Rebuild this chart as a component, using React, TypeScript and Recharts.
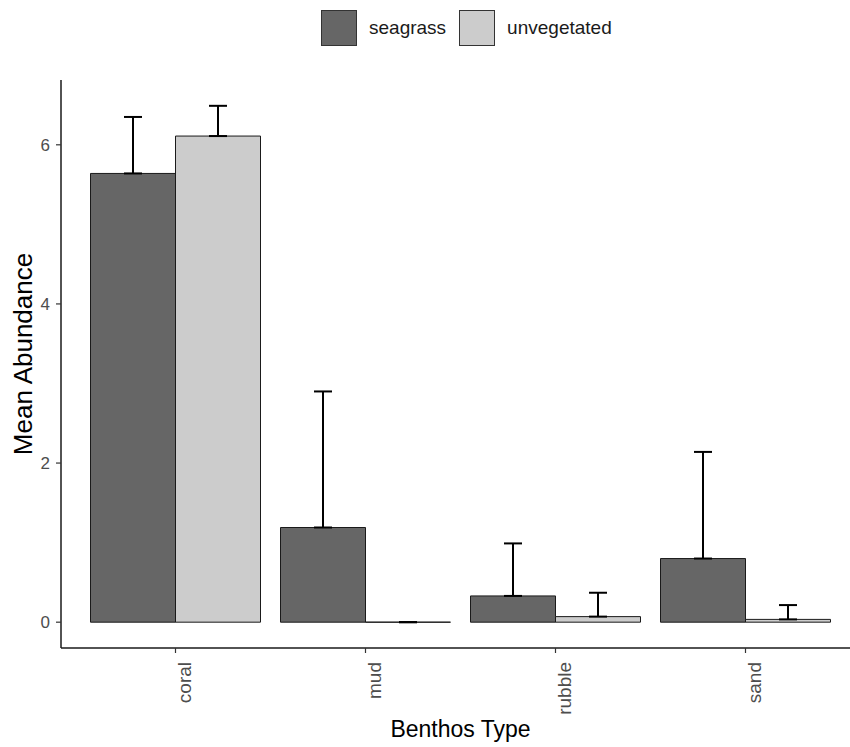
import React from 'react';
import { BarChart, Bar, XAxis, YAxis, ErrorBar, Legend, Label } from 'recharts';

const categories = ['coral', 'mud', 'rubble', 'sand'];
const seagrassMean = [5.64, 1.19, 0.33, 0.8];
const seagrassSE = [0.71, 1.71, 0.66, 1.34];
const unvegetatedMean = [6.11, 0, 0.07, 0.035];
const unvegetatedSE = [0.38, 0, 0.3, 0.18];
const yTicks = [0, 2, 4, 6];

const seriesInfo = [
  { key: 'seagrass', name: 'seagrass', color: '#666666' },
  { key: 'unvegetated', name: 'unvegetated', color: '#CCCCCC' },
];

const data = categories.map((c, i) => ({
  benthos: c,
  seagrass: seagrassMean[i],
  seagrassErr: [0, seagrassSE[i]],
  unvegetated: unvegetatedMean[i],
  unvegetatedErr: [0, unvegetatedSE[i]],
}));

const maxTop = Math.max(
  ...seagrassMean.map((m, i) => m + seagrassSE[i]),
  ...unvegetatedMean.map((m, i) => m + unvegetatedSE[i])
);
const yDomain = [-0.05 * maxTop, maxTop * 1.05];

const FONT = '"Liberation Sans", Arial, sans-serif';

const BarShape = (props: any) => {
  const { x, y, width, height, fill } = props;
  return (
    <path
      d={`M${x},${y}h${width}v${height}h${-width}Z`}
      fill={fill}
      stroke="#1a1a1a"
      strokeWidth={1}
    />
  );
};

const XTick = (props: any) => {
  const { x, y, payload } = props;
  const tx = x + 15;
  const ty = y + 2;
  return (
    <text
      x={tx}
      y={ty}
      transform={`rotate(-90, ${tx}, ${ty})`}
      textAnchor="end"
      fontSize={19}
      fill="#4D4D4D"
      fontFamily={FONT}
    >
      {payload.value}
    </text>
  );
};

const LegendContent = () => (
  <div style={{ height: 80, position: 'relative', width: 860 }}>
    <div
      style={{
        position: 'absolute',
        left: 321,
        top: 10,
        display: 'flex',
        alignItems: 'center',
        fontFamily: FONT,
        fontSize: 19,
        color: '#1a1a1a',
        whiteSpace: 'nowrap',
      }}
    >
      {seriesInfo.map((s) => (
        <React.Fragment key={s.key}>
          <span
            style={{
              display: 'inline-block',
              width: 36,
              height: 36,
              boxSizing: 'border-box',
              background: s.color,
              border: '1px solid #333333',
              marginRight: 12,
            }}
          />
          <span style={{ marginRight: 13 }}>{s.name}</span>
        </React.Fragment>
      ))}
    </div>
  </div>
);

export default function App() {
  return (
    <div
      style={{
        position: 'absolute',
        left: 0,
        top: 0,
        width: 850,
        height: 747,
        overflow: 'hidden',
        background: '#fff',
      }}
    >
      <BarChart
        width={860}
        height={747}
        data={data}
        margin={{ top: 0, right: 0, bottom: 0, left: 0 }}
        barCategoryGap={10}
        barGap={0}
        style={{ fontFamily: FONT }}
      >
        <Legend
          verticalAlign="top"
          align="left"
          content={<LegendContent />}
          wrapperStyle={{ top: 0, left: 0, width: 860, height: 80, margin: 0 }}
        />
        <XAxis
          dataKey="benthos"
          height={99}
          padding={{ left: 19.5, right: 19.5 }}
          tickSize={5}
          tickMargin={7}
          tick={<XTick />}
          axisLine={{ stroke: '#1a1a1a', strokeWidth: 1.5 }}
          tickLine={{ stroke: '#333333', strokeWidth: 1.2 }}
          interval={0}
        >
          <Label
            content={(p: any) => {
              const vb = p.viewBox;
              return (
                <text
                  x={vb.x + vb.width / 2}
                  y={vb.y + 89}
                  textAnchor="middle"
                  fontSize={23}
                  fill="#000"
                  fontFamily={FONT}
                >
                  Benthos Type
                </text>
              );
            }}
          />
        </XAxis>
        <YAxis
          width={61}
          domain={yDomain}
          ticks={yTicks}
          allowDataOverflow
          tickSize={5}
          tickMargin={6}
          tick={{ fontSize: 17, fill: '#4D4D4D', fontFamily: FONT }}
          axisLine={{ stroke: '#1a1a1a', strokeWidth: 1.5 }}
          tickLine={{ stroke: '#333333', strokeWidth: 1.2 }}
        >
          <Label
            content={(p: any) => {
              const vb = p.viewBox;
              const tx = vb.x + 32;
              const ty = vb.y + vb.height / 2 - 10;
              return (
                <text
                  x={tx}
                  y={ty}
                  transform={`rotate(-90, ${tx}, ${ty})`}
                  textAnchor="middle"
                  fontSize={26}
                  fill="#000"
                  fontFamily={FONT}
                >
                  Mean Abundance
                </text>
              );
            }}
          />
        </YAxis>
        <Bar
          dataKey="seagrass"
          name="seagrass"
          fill="#666666"
          shape={<BarShape />}
          isAnimationActive={false}
        >
          <ErrorBar
            dataKey="seagrassErr"
            direction="y"
            width={9}
            stroke="#000"
            strokeWidth={2}
            isAnimationActive={false}
          />
        </Bar>
        <Bar
          dataKey="unvegetated"
          name="unvegetated"
          fill="#CCCCCC"
          shape={<BarShape />}
          isAnimationActive={false}
        >
          <ErrorBar
            dataKey="unvegetatedErr"
            direction="y"
            width={9}
            stroke="#000"
            strokeWidth={2}
            isAnimationActive={false}
          />
        </Bar>
      </BarChart>
    </div>
  );
}
